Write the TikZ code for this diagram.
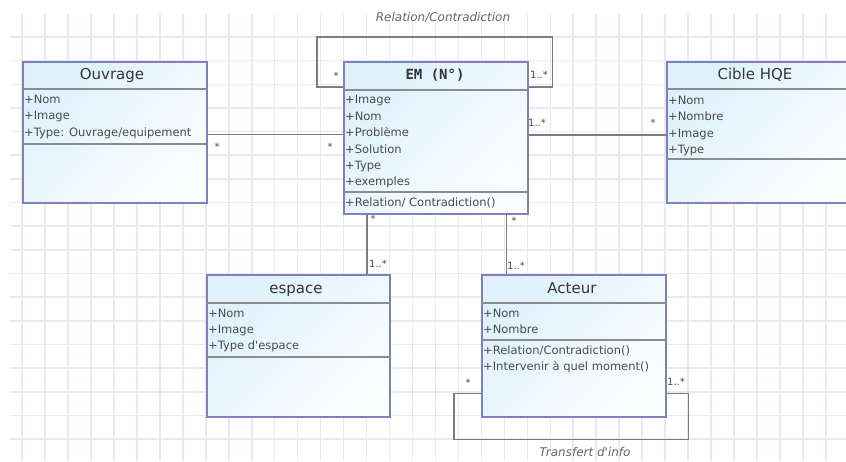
\documentclass[tikz,border=0pt]{standalone}
\usepackage{fontspec}
\setmainfont{DejaVu Sans}[Ligatures=TeXOff]
\newfontfamily\monobold{DejaVu Sans Mono}
\definecolor{gridc}{RGB}{232,232,247}
\definecolor{boxborder}{RGB}{128,128,188}
\definecolor{boxtop}{RGB}{222,241,252}
\definecolor{boxbot}{RGB}{251,253,255}
\definecolor{sepc}{RGB}{140,140,140}
\definecolor{connc}{RGB}{125,125,125}
\definecolor{txtc}{RGB}{75,75,75}
\begin{document}
\begin{tikzpicture}[x=1pt,y=-1pt,
  classbox/.style={draw=boxborder, line width=1.6pt, top color=boxtop, bottom color=boxbot, shading angle=45, anchor=north west, inner sep=0pt},
  hdr/.style={font=\fontsize{15}{18}\selectfont, text=txtc!70!black, inner sep=0pt, text height=11pt, text depth=3pt},
  attr/.style={font=\fontsize{11.5}{13}\selectfont, text=txtc, anchor=west, inner sep=0pt, text height=8.5pt, text depth=2.5pt},
  sepline/.style={draw=sepc, line width=1.2pt},
  conn/.style={draw=connc, line width=1.6pt},
  mult/.style={font=\fontsize{10}{12}\selectfont, text=txtc, inner sep=0pt},
  rolelab/.style={font=\itshape\fontsize{12}{14}\selectfont, text=txtc!85, inner sep=0pt},
  gridline/.style={draw=gridc, line width=1.6pt},
]
\useasboundingbox (0,0) rectangle (846,461);
\clip (0,0) rectangle (846,461);
\fill[white] (0,0) rectangle (846,461);
% grid
\foreach \i in {0,...,35} \draw[gridline] ({22+22.97*\i},14) -- ({22+22.97*\i},461);
\foreach \j in {0,...,18} \draw[gridline] (10,{37+23.65*\j}) -- (846,{37+23.65*\j});

% ---------- boxes ----------
\node[classbox, minimum width=184pt, minimum height=152pt] (em) at (343,61) {};
\node[classbox, minimum width=184pt, minimum height=141pt] (ouv) at (22,61) {};
\node[classbox, minimum width=190pt, minimum height=141pt] (cib) at (666,61) {};
\node[classbox, minimum width=183pt, minimum height=142pt] (esp) at (206,274) {};
\node[classbox, minimum width=184pt, minimum height=142pt] (act) at (481,274) {};

% ---------- connectors ----------
\draw[conn] ([yshift=-26pt]em.north west) -| ([xshift=-26pt,yshift=24pt]em.north west)
   -| ([xshift=24pt,yshift=-26pt]em.north east) -- ([yshift=-26pt]em.north east);
\draw[conn] ([yshift=-2pt]ouv.east) -- ([yshift=-2pt]ouv.east -| em.west);
\draw[conn] ([yshift=-2.5pt]em.east |- cib.west) -- ([yshift=-2.5pt]cib.west);
\draw[conn] ([xshift=24pt]em.south west) -- ([xshift=24pt]em.south west |- esp.north);
\draw[conn] ([xshift=-22pt]em.south east) -- ([xshift=-22pt]em.south east |- act.north);
\draw[conn] ([yshift=24pt]act.south west) -| ([xshift=-27pt,yshift=-22pt]act.south west)
   -| ([xshift=22pt,yshift=24pt]act.south east) -- ([yshift=24pt]act.south east);

% ---------- Ouvrage ----------
\draw[sepline] (22,89) -- (206,89);
\draw[sepline] (22,144) -- (206,144);
\node[hdr] (ouvh) at (112,75) {Ouvrage};
\node[attr] (ouv1) at (24,100) {+Nom};
\node[attr] (ouv2) at (24,116.5) {+Image};
\node[attr] (ouv3) at (24,133) {+Type: Ouvrage/equipement};

% ---------- EM ----------
\draw[sepline] (343,90) -- (527,90);
\draw[sepline] (343,192) -- (527,192);
\node[hdr, font=\monobold\bfseries\fontsize{14}{17}\selectfont] (emh) at (435,75) {EM (N°)};
\node[attr] (em1) at (345,100.5) {+Image};
\node[attr] (em2) at (345,117) {+Nom};
\node[attr] (em3) at (345,133.5) {+Problème};
\node[attr] (em4) at (345,150) {+Solution};
\node[attr] (em5) at (345,166) {+Type};
\node[attr] (em6) at (345,182) {+exemples};
\node[attr] (em7) at (345,203) {+Relation/ Contradiction()};

% ---------- Cible HQE ----------
\draw[sepline] (666,89) -- (856,89);
\draw[sepline] (666,159) -- (856,159);
\node[hdr] (cibh) at (755,75) {Cible HQE};
\node[attr] (cib1) at (668,101) {+Nom};
\node[attr] (cib2) at (668,117) {+Nombre};
\node[attr] (cib3) at (668,134) {+Image};
\node[attr] (cib4) at (668,150) {+Type};

% ---------- espace ----------
\draw[sepline] (206,303) -- (389,303);
\draw[sepline] (206,357) -- (389,357);
\node[hdr] (esph) at (296,289) {espace};
\node[attr] (esp1) at (208,314) {+Nom};
\node[attr] (esp2) at (208,330) {+Image};
\node[attr] (esp3) at (208,346) {+Type d'espace};

% ---------- Acteur ----------
\draw[sepline] (481,303) -- (665,303);
\draw[sepline] (481,340) -- (665,340);
\node[hdr] (acth) at (572,289) {Acteur};
\node[attr] (act1) at (483,314) {+Nom};
\node[attr] (act2) at (483,330) {+Nombre};
\node[attr] (act3) at (483,351) {+Relation/Contradiction()};
\node[attr] (act4) at (483,367.5) {+Intervenir à quel moment()};

% ---------- multiplicities ----------
\node[mult] (m1) at (336,76) {*};
\node[mult] (m2) at (539,75) {1..*};
\node[mult] (m3) at (217,147) {*};
\node[mult] (m4) at (330,147) {*};
\node[mult] (m5) at (537,123) {1..*};
\node[mult] (m6) at (653,123) {*};
\node[mult] (m7) at (373,219) {*};
\node[mult] (m8) at (378,264) {1..*};
\node[mult] (m9) at (514,221) {*};
\node[mult] (m10) at (516,266) {1..*};
\node[mult] (m11) at (468,383) {*};
\node[mult] (m12) at (676,382) {1..*};

% ---------- role labels ----------
\node[rolelab] (r1) at (443,17) {Relation/Contradiction};
\node[rolelab] (r2) at (585,452) {Transfert d'info};
\end{tikzpicture}
\end{document}
